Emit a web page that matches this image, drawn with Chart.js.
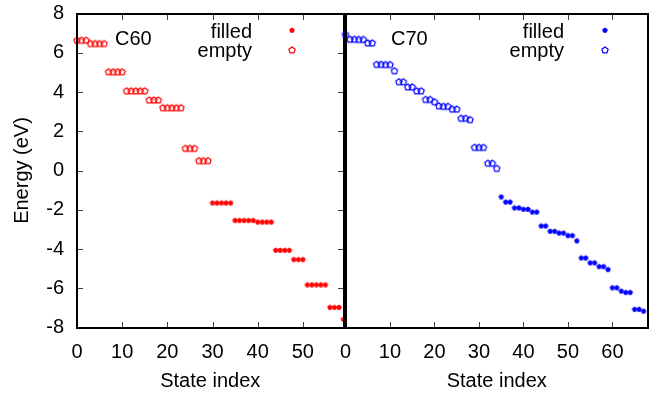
<!DOCTYPE html>
<html><head><meta charset="utf-8">
<script src="https://cdn.jsdelivr.net/npm/chart.js@4.4.1/dist/chart.umd.min.js"></script>
<style>
html,body{margin:0;padding:0;background:#fff;}
#wrap{position:relative;width:653px;height:393px;overflow:hidden;background:#fff;}
canvas{position:absolute;left:0;top:0;}
</style></head><body>
<div id="wrap"><canvas id="c1" width="653" height="393"></canvas><canvas id="c2" width="653" height="393"></canvas></div>
<script>
// ---- data ----
const panelTitles = ['C60', 'C70'];
const seriesNames = ['filled', 'empty'];
const yTickValues = [-8, -6, -4, -2, 0, 2, 4, 6, 8];
const xTicksC60 = [0, 10, 20, 30, 40, 50];
const xTicksC70 = [0, 10, 20, 30, 40, 50, 60];
const yAxisTitle = 'Energy (eV)';
const xAxisTitle = 'State index';

const c60Empty = [
  6.64, 6.64, 6.64,
  6.47, 6.47, 6.47, 6.47,
  5.03, 5.03, 5.03, 5.03,
  4.06, 4.06, 4.06, 4.06, 4.06,
  3.59, 3.59, 3.59,
  3.20, 3.20, 3.20, 3.20, 3.20,
  1.13, 1.13, 1.13,
  0.50, 0.50, 0.50
];
const c60Filled = [
  -1.64, -1.64, -1.64, -1.64, -1.64,
  -2.53, -2.53, -2.53, -2.53, -2.53,
  -2.61, -2.61, -2.61, -2.61,
  -4.05, -4.05, -4.05, -4.05,
  -4.52, -4.52, -4.52,
  -5.81, -5.81, -5.81, -5.81, -5.81,
  -6.96, -6.96, -6.96,
  -7.57
];
const c70Empty = [
  6.93,
  6.69, 6.69, 6.68, 6.68,
  6.50, 6.50,
  5.41, 5.41, 5.40, 5.40,
  5.08,
  4.52, 4.52,
  4.26, 4.26,
  4.06, 4.06,
  3.62, 3.62,
  3.50,
  3.29, 3.27, 3.27,
  3.13, 3.13,
  2.66, 2.66,
  2.59,
  1.18, 1.18, 1.18,
  0.37, 0.37,
  0.11
];
const c70Filled = [
  -1.33,
  -1.59, -1.59,
  -1.89, -1.89,
  -1.96, -1.96,
  -2.10, -2.10,
  -2.81, -2.81,
  -3.08, -3.08,
  -3.17, -3.17,
  -3.30, -3.30,
  -3.57,
  -4.44, -4.44,
  -4.69, -4.69,
  -4.88, -4.88,
  -5.03,
  -5.96, -5.96,
  -6.13,
  -6.20, -6.20,
  -7.06, -7.06,
  -7.15
];

// ---- rendering ----
const FONT = '"Liberation Sans", Arial, Helvetica, sans-serif';
Chart.defaults.font.family = FONT;
Chart.defaults.font.size = 20;
Chart.defaults.color = '#000';

function pentagon(color, filled) {
  const size = 10;
  const c = document.createElement('canvas'); c.width = size; c.height = size;
  const g = c.getContext('2d');
  const cx = size / 2, cy = size / 2 + 0.3, r = filled ? 2.4 : 3.3;
  g.beginPath();
  for (let k = 0; k < 5; k++) {
    const ang = -Math.PI / 2 + k * 2 * Math.PI / 5;
    const px = cx + r * Math.cos(ang), py = cy + r * Math.sin(ang);
    if (k) g.lineTo(px, py); else g.moveTo(px, py);
  }
  g.closePath();
  g.strokeStyle = color; g.lineWidth = filled ? 1 : 1.2;
  if (filled) { g.fillStyle = color; g.fill(); }
  g.stroke();
  return c;
}

// gnuplot-style frame, inward tick marks, panel label and key
const gpPlugin = {
  id: 'gp',
  afterDraw(chart, args, o) {
    const ctx = chart.ctx, a = chart.chartArea;
    const xs = chart.scales.x, ys = chart.scales.y;
    const L = Math.round(a.left), R = Math.round(a.right), T = Math.round(a.top), B = Math.round(a.bottom);
    ctx.save();
    ctx.fillStyle = '#404040';
    xs.ticks.forEach(t => {
      const px = Math.round(xs.getPixelForValue(t.value));
      ctx.fillRect(px, B - 6, 1, 5);
      ctx.fillRect(px, T + 1, 1, 5);
    });
    if (o.yTicks) {
      ys.ticks.forEach(t => {
        const py = Math.round(ys.getPixelForValue(t.value));
        ctx.fillRect(L + 1, py, 5, 1);
        ctx.fillRect(R - 6, py, 5, 1);
      });
    }
    ctx.fillStyle = '#000';
    ctx.fillRect(L - 1, T - 1, R - L + 2, 2);
    ctx.fillRect(L - 1, B - 1, R - L + 2, 2);
    ctx.fillRect(L - 1, T - 1, 2, B - T + 2);
    ctx.fillRect(R - 1, T - 1, 2, B - T + 2);
    ctx.font = '20px ' + FONT;
    ctx.textAlign = 'left'; ctx.textBaseline = 'alphabetic';
    ctx.fillText(o.title, o.titleX, o.titleY);
    ctx.textAlign = 'right';
    chart.data.datasets.forEach((ds, i) => {
      ctx.fillText(ds.label, o.legendTextX, o.legendBase[i]);
      const img = ds.pointStyle;
      ctx.drawImage(img, Math.round(o.legendMarkX - img.width / 2), Math.round(o.legendMarkY[i] - img.height / 2));
    });
    ctx.restore();
  }
};

function makeChart(id, empty, filled, color, xTicks, xMax, left) {
  const emptyPts = empty.map((e, i) => ({ x: i, y: e }));
  const filledPts = filled.map((e, i) => ({ x: i + empty.length, y: e }));
  const zeroPad = s => { s.paddingLeft = 0; s.paddingRight = 0; s.paddingTop = 0; s.paddingBottom = 0; };
  const scales = {
    x: {
      type: 'linear', min: 0, max: xMax,
      afterBuildTicks: s => { s.ticks = xTicks.map(v => ({ value: v })); },
      afterFit: s => { s.height = 65.5; zeroPad(s); },
      grid: { display: false, drawTicks: false },
      border: { display: false },
      ticks: { autoSkip: false, maxRotation: 0, padding: 13, font: { size: 20 }, color: '#000' },
      title: { display: true, text: xAxisTitle, font: { size: 20 }, color: '#000', padding: { top: 0, bottom: 0 } }
    },
    y: {
      type: 'linear', min: -8, max: 8,
      display: left,
      afterBuildTicks: s => { s.ticks = yTickValues.map(v => ({ value: v })); },
      afterFit: s => { s.width = left ? 77 : 0; zeroPad(s); },
      grid: { display: false, drawTicks: false },
      border: { display: false },
      ticks: { padding: 13, font: { size: 20 }, color: '#000' },
      title: { display: true, text: yAxisTitle, font: { size: 20 }, color: '#000', padding: { top: 10, bottom: 0 } }
    }
  };
  return new Chart(document.getElementById(id), {
    type: 'scatter',
    data: {
      datasets: [
        { label: seriesNames[0], data: filledPts, pointStyle: pentagon(color, true), pointRadius: 3, clip: false, borderColor: color, backgroundColor: color },
        { label: seriesNames[1], data: emptyPts, pointStyle: pentagon(color, false), pointRadius: 3, clip: false, borderColor: color, backgroundColor: color }
      ]
    },
    options: {
      responsive: false, animation: false, events: [],
      layout: { padding: left ? { left: 0, right: 309.5, top: 13.5, bottom: 0 } : { left: 345.5, right: 0, top: 13.5, bottom: 0 } },
      scales,
      plugins: {
        legend: { display: false }, tooltip: { enabled: false },
        gp: left ? {
          yTicks: true, title: panelTitles[0], titleX: 115, titleY: 44.5,
          legendTextX: 252, legendBase: [37.5, 57], legendMarkX: 292, legendMarkY: [30, 50]
        } : {
          yTicks: false, title: panelTitles[1], titleX: 391, titleY: 44.5,
          legendTextX: 564, legendBase: [37.5, 57], legendMarkX: 604.5, legendMarkY: [30, 50]
        }
      }
    },
    plugins: [gpPlugin]
  });
}

makeChart('c1', c60Empty, c60Filled, '#ff0000', xTicksC60, 59, true);
makeChart('c2', c70Empty, c70Filled, '#0000ff', xTicksC70, 68, false);
</script>
</body></html>
